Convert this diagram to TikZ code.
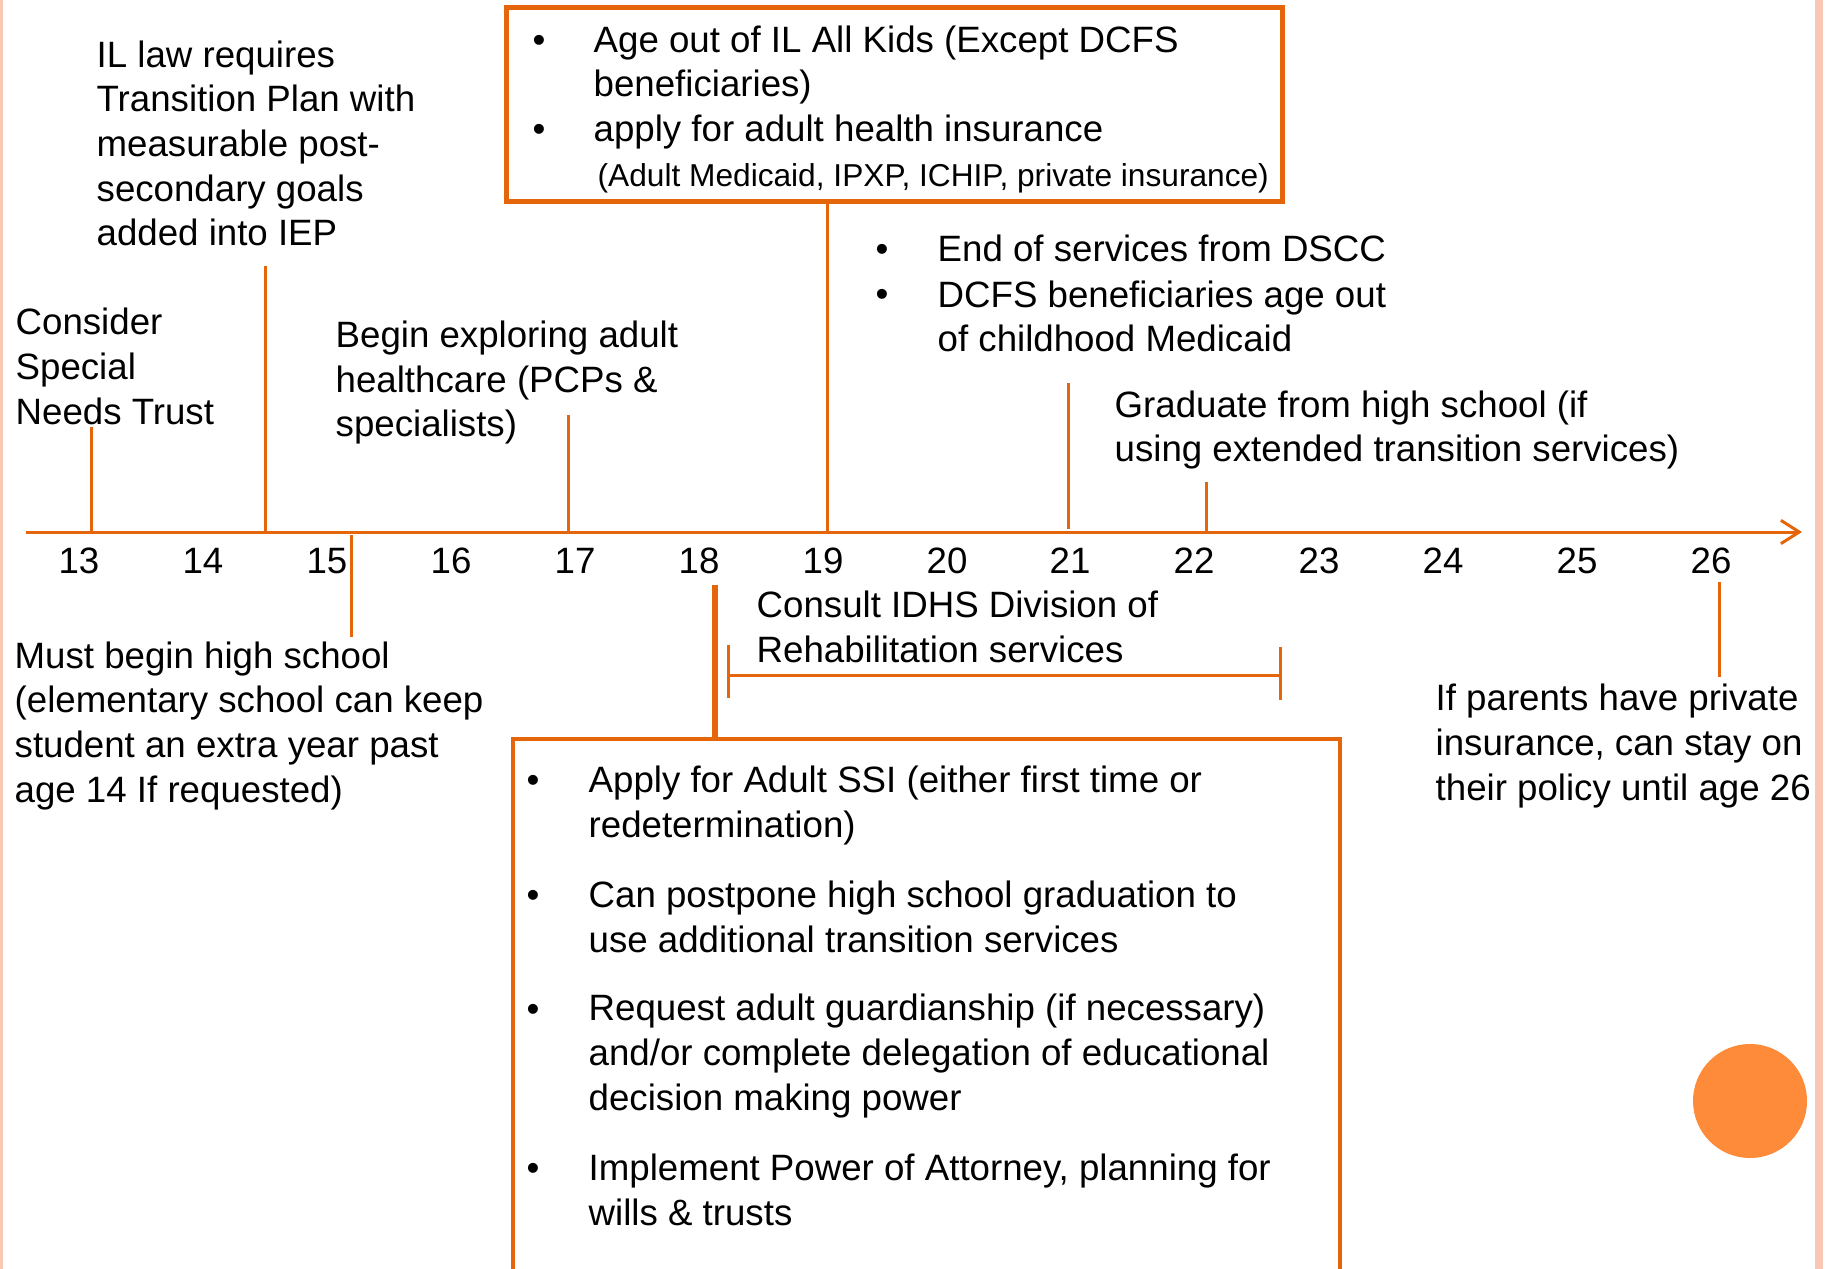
\documentclass[tikz,border=0pt]{standalone}
\usepackage{fontspec}
\setmainfont{Liberation Sans}
\usetikzlibrary{arrows.meta,fit}
\definecolor{org}{HTML}{E5650A}
\definecolor{circ}{HTML}{FD8B39}
\definecolor{band}{HTML}{F9C8B4}
\begin{document}
\begin{tikzpicture}[x=0.3pt,y=-0.3pt,
  lbl/.style={font=\fontsize{11}{13.4}\selectfont, align=left, anchor=base west, inner sep=0pt},
  small/.style={font=\fontsize{9.5}{11.4}\selectfont, align=left, anchor=base west, inner sep=0pt},
  num/.style={font=\fontsize{11}{13.4}\selectfont, anchor=base, inner sep=0pt},
  bul/.style={font=\fontsize{11}{13.4}\selectfont, anchor=base, inner sep=0pt},
  tick/.style={draw=org, line width=0.9pt},
  thick18/.style={draw=org, line width=1.8pt},
  boxst/.style={draw=org, line width=1.5pt, inner sep=0pt}]
\useasboundingbox (0,0) rectangle (1833,1269);
\clip (0,0) rectangle (1833,1269);
% side bands and decoration
\fill[band] (0,0) rectangle (3,1269);
\fill[band] (1815,0) rectangle (1823,1269);
\fill[circ] (1750,1101) circle[radius=17.1pt];
% axis
\coordinate (axL) at (26,532);
\coordinate (axR) at (1802,532);
\draw[tick, -{Straight Barb[length=5.5pt,width=7pt]}] (axL) -- (axR);
% year numbers
\node[num] (n13) at (79,573) {13};
\node[num] (n14) at (203,573) {14};
\node[num] (n15) at (327,573) {15};
\node[num] (n16) at (451,573) {16};
\node[num] (n17) at (575,573) {17};
\node[num] (n18) at (699,573) {18};
\node[num] (n19) at (823,573) {19};
\node[num] (n20) at (947,573) {20};
\node[num] (n21) at (1070,573) {21};
\node[num] (n22) at (1194,573) {22};
\node[num] (n23) at (1319,573) {23};
\node[num] (n24) at (1443,573) {24};
\node[num] (n25) at (1577,573) {25};
\node[num] (n26) at (1711,573) {26};
% upper labels (anchored at the baseline of their last line)
\node[lbl] (il) at (96,246) {IL law requires\\Transition Plan with\\measurable post-\\secondary goals\\added into IEP};
\node[lbl] (snt) at (15,424) {Consider\\Special\\Needs Trust};
\node[lbl] (begin) at (335,437) {Begin exploring adult\\healthcare (PCPs \&\\specialists)};
\node[lbl] (grad) at (1114,462) {Graduate from high school (if\\using extended transition services)};
% top box
\node[boxst, fit={(506,8) (1282,202)}] (topbox) {};
\node[bul] (tb1) at (539,53) {•};
\node[lbl] (tt1) at (593,97) {Age out of IL All Kids (Except DCFS\\beneficiaries)};
\node[bul] (tb2) at (539,142) {•};
\node[lbl] (tt2) at (593,142) {apply for adult health insurance};
\node[small] (tt3) at (597,187) {(Adult Medicaid, IPXP, ICHIP, private insurance)};
% DSCC bullets
\node[bul] (db1) at (882,262) {•};
\node[lbl] (dt1) at (937,262) {End of services from DSCC};
\node[bul] (db2) at (882,307) {•};
\node[lbl] (dt2) at (937,352) {DCFS beneficiaries age out\\of childhood Medicaid};
% upper ticks
\coordinate (u13a) at (91,427);   \coordinate (u13b) at (91,532);
\coordinate (u14a) at (265,266);  \coordinate (u14b) at (265,532);
\coordinate (u17a) at (568,415);  \coordinate (u17b) at (568,532);
\coordinate (u19b) at (827,532);
\coordinate (u21a) at (1068,383); \coordinate (u21b) at (1068,529);
\coordinate (u22a) at (1206,482); \coordinate (u22b) at (1206,532);
\draw[tick] (u13a) -- (u13b);
\draw[tick] (u14a) -- (u14b);
\draw[tick] (u17a) -- (u17b);
\draw[tick] (topbox.south -| u19b) -- (u19b);
\draw[tick] (u21a) -- (u21b);
\draw[tick] (u22a) -- (u22b);
% lower labels
\node[lbl] (hs) at (14,802) {Must begin high school\\(elementary school can keep\\student an extra year past\\age 14 If requested)};
\node[lbl] (idhs) at (756,662) {Consult IDHS Division of\\Rehabilitation services};
\node[lbl] (par) at (1435,800) {If parents have private\\insurance, can stay on\\their policy until age 26};
% lower ticks
\coordinate (l15a) at (351,535);  \coordinate (l15b) at (351,637);
\coordinate (l18a) at (715,585);
\coordinate (l26a) at (1719,582); \coordinate (l26b) at (1719,677);
\coordinate (brL1) at (728,645);  \coordinate (brL2) at (728,698);
\coordinate (brR1) at (1280,647); \coordinate (brR2) at (1280,700);
\coordinate (brA) at (728,675);   \coordinate (brB) at (1280,675);
\draw[tick] (l15a) -- (l15b);
\draw[tick] (l26a) -- (l26b);
\draw[tick] (brL1) -- (brL2);
\draw[tick] (brR1) -- (brR2);
\draw[tick] (brA) -- (brB);
% bottom box
\node[draw=org, line width=1.4pt, inner sep=0pt, fit={(513,739) (1340,1285)}] (botbox) {};
\draw[thick18] (l18a) -- (botbox.north -| l18a);
\node[bul] (bb1) at (533,792) {•};
\node[lbl] (bt1) at (588,837) {Apply for Adult SSI (either first time or\\redetermination)};
\node[bul] (bb2) at (533,907) {•};
\node[lbl] (bt2) at (588,952) {Can postpone high school graduation to\\use additional transition services};
\node[bul] (bb3) at (533,1021) {•};
\node[lbl] (bt3) at (588,1110) {Request adult guardianship (if necessary)\\and/or complete delegation of educational\\decision making power};
\node[bul] (bb4) at (533,1180) {•};
\node[lbl] (bt4) at (588,1225) {Implement Power of Attorney, planning for\\wills \& trusts};
\end{tikzpicture}
\end{document}
